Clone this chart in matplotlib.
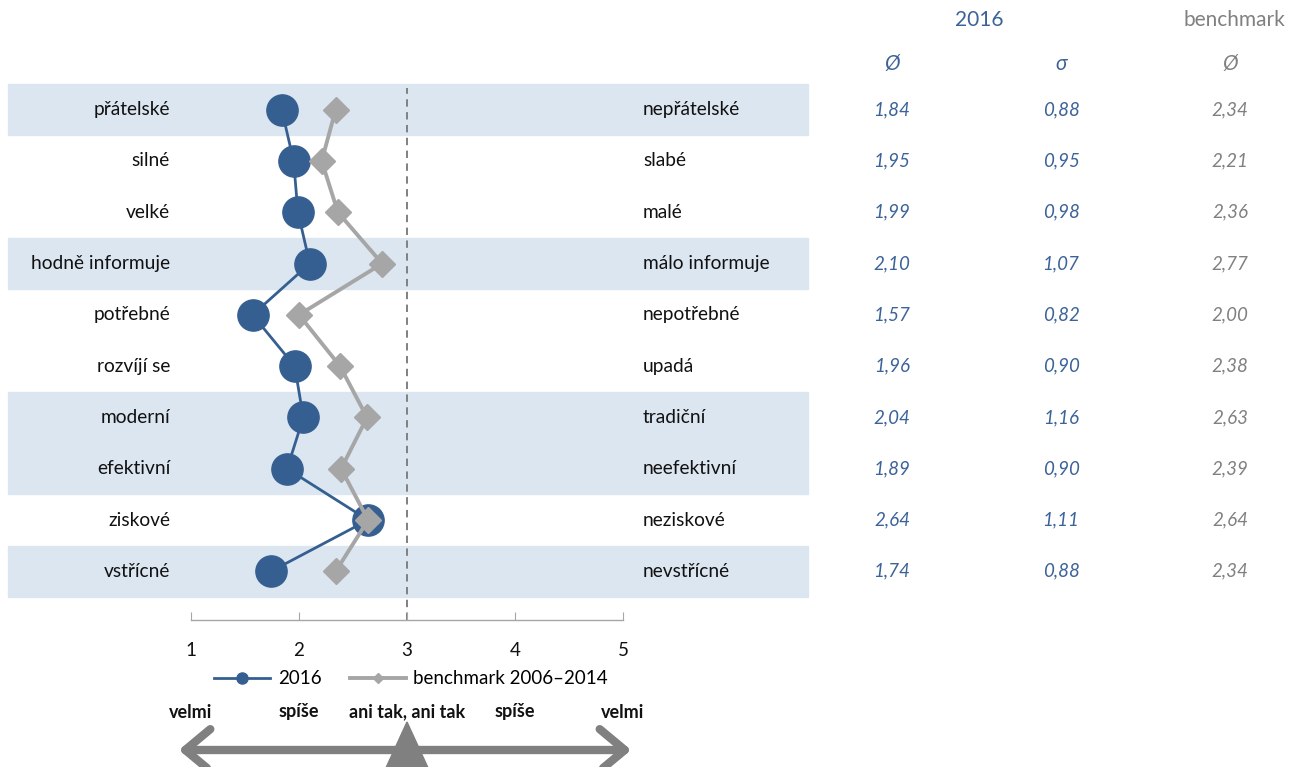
import matplotlib
matplotlib.use("Agg")
import matplotlib.pyplot as plt
from matplotlib.patches import Rectangle, FancyArrowPatch, Polygon
from matplotlib.lines import Line2D

plt.rcParams['font.family'] = ['Lato', 'DejaVu Sans']

# semantic differential items (left pole / right pole)
left_labels = ["přátelské", "silné", "velké", "hodně informuje", "potřebné",
               "rozvíjí se", "moderní", "efektivní", "ziskové", "vstřícné"]
right_labels = ["nepřátelské", "slabé", "malé", "málo informuje", "nepotřebné",
                "upadá", "tradiční", "neefektivní", "neziskové", "nevstřícné"]
mean_2016 = [1.84, 1.95, 1.99, 2.10, 1.57, 1.96, 2.04, 1.89, 2.64, 1.74]
sd_2016 = [0.88, 0.95, 0.98, 1.07, 0.82, 0.90, 1.16, 0.90, 1.11, 0.88]
mean_bench = [2.34, 2.21, 2.36, 2.77, 2.00, 2.38, 2.63, 2.39, 2.64, 2.34]
shaded_rows = [0, 3, 6, 7, 9]
scale_ticks = [1, 2, 3, 4, 5]
scale_words = ["velmi", "spíše", "ani tak, ani tak", "spíše", "velmi"]

BLUE = "#365f91"
NUM_BLUE = "#3c6399"
GRAY = "#a6a6a6"
DARK_GRAY = "#808080"
BAND = "#dce6f1"
TXT = "#111111"

W, H = 1293, 767
ROW_H = 51.3
fig = plt.figure(figsize=(W / 100, H / 100), dpi=100)


def fx(px):
    return px / W


def fy(py):
    return 1 - py / H


def row_y(i):
    return fy(84 + (i + 0.5) * ROW_H)


ax = fig.add_axes([fx(191), fy(597), (623 - 191) / W, (597 - 84) / H])
ax.set_xlim(1, 5)
ax.set_ylim(len(left_labels) - 0.5, -0.5)
ax.patch.set_visible(False)
ax.set_zorder(2)

rows = list(range(len(left_labels)))

# shaded row bands behind everything
for r in shaded_rows:
    fig.patches.append(Rectangle((fx(8), fy(84 + (r + 1) * ROW_H)), (808 - 8) / W, ROW_H / H,
                                 transform=fig.transFigure, color=BAND, zorder=-5))

ax.axvline(3, ymin=-0.045, ymax=0.992, color=DARK_GRAY, lw=1.4, ls=(0, (3.8, 2.8)),
           clip_on=False, zorder=1)

ax.plot(mean_2016, rows, color=BLUE, lw=2, marker="o", ms=22.5, zorder=3, clip_on=False)
ax.plot(mean_bench, rows, color=GRAY, lw=2.8, marker="D", ms=13.5, zorder=4, clip_on=False)

for i in rows:
    ax.text(0.806, i, left_labels[i], ha="right", va="center", fontsize=13.8, color=TXT)
    ax.text(5.185, i, right_labels[i], ha="left", va="center", fontsize=13.8, color=TXT)
    for px, val, col in [(892, mean_2016[i], NUM_BLUE), (1061, sd_2016[i], NUM_BLUE),
                         (1230, mean_bench[i], DARK_GRAY)]:
        fig.text(fx(px), row_y(i), f"{val:.2f}".replace(".", ","),
                 ha="center", va="center", fontsize=13.5, style="italic", color=col)

# column headers
fig.text(fx(979), fy(20), "2016", ha="center", va="center", fontsize=15, color=NUM_BLUE)
fig.text(fx(1285), fy(20), "benchmark", ha="right", va="center", fontsize=15, color=DARK_GRAY)
fig.text(fx(892), fy(64), "Ø", ha="center", va="center", fontsize=15, style="italic", color=NUM_BLUE)
fig.text(fx(1061), fy(64), "σ", ha="center", va="center", fontsize=15, style="italic", color=NUM_BLUE)
fig.text(fx(1230), fy(64), "Ø", ha="center", va="center", fontsize=15, style="italic", color=DARK_GRAY)

# bottom scale axis
for s in ["top", "left", "right"]:
    ax.spines[s].set_visible(False)
ax.spines["bottom"].set_position(("outward", 16.5))
ax.spines["bottom"].set_color(GRAY)
ax.spines["bottom"].set_linewidth(1)
ax.set_xticks(scale_ticks)
ax.set_xticklabels([str(t) for t in scale_ticks])
ax.set_yticks([])
ax.tick_params(axis="x", direction="in", length=6, color=GRAY, pad=16, labelsize=13.5,
               labelcolor=TXT)

handles = [Line2D([], [], color=BLUE, lw=2, marker="o", ms=8),
           Line2D([], [], color=GRAY, lw=2.8, marker="D", ms=5)]
fig.legend(handles, ["2016", "benchmark 2006–2014"], loc="center",
           bbox_to_anchor=(fx(411), fy(679)), ncol=2, frameon=False, fontsize=13.5,
           handlelength=3.0, handletextpad=0.4, columnspacing=1.5)

for t, word in zip(scale_ticks, scale_words):
    px = 191 + (t - 1) * 108
    fig.text(fx(px), fy(712), word, ha="center", va="center", fontsize=13,
             fontweight="bold", color=TXT)

# direction arrow with centre marker
arrow = FancyArrowPatch((fx(176), fy(750)), (fx(634), fy(750)), transform=fig.transFigure,
                        arrowstyle="<->,head_length=6,head_width=5", lw=6,
                        color=DARK_GRAY, mutation_scale=3)
fig.patches.append(arrow)
fig.patches.append(Polygon([(fx(407), fy(722)), (fx(385), fy(770)), (fx(429), fy(770))],
                           closed=True, transform=fig.transFigure, color=DARK_GRAY))

fig.savefig("out.png", dpi=100)
